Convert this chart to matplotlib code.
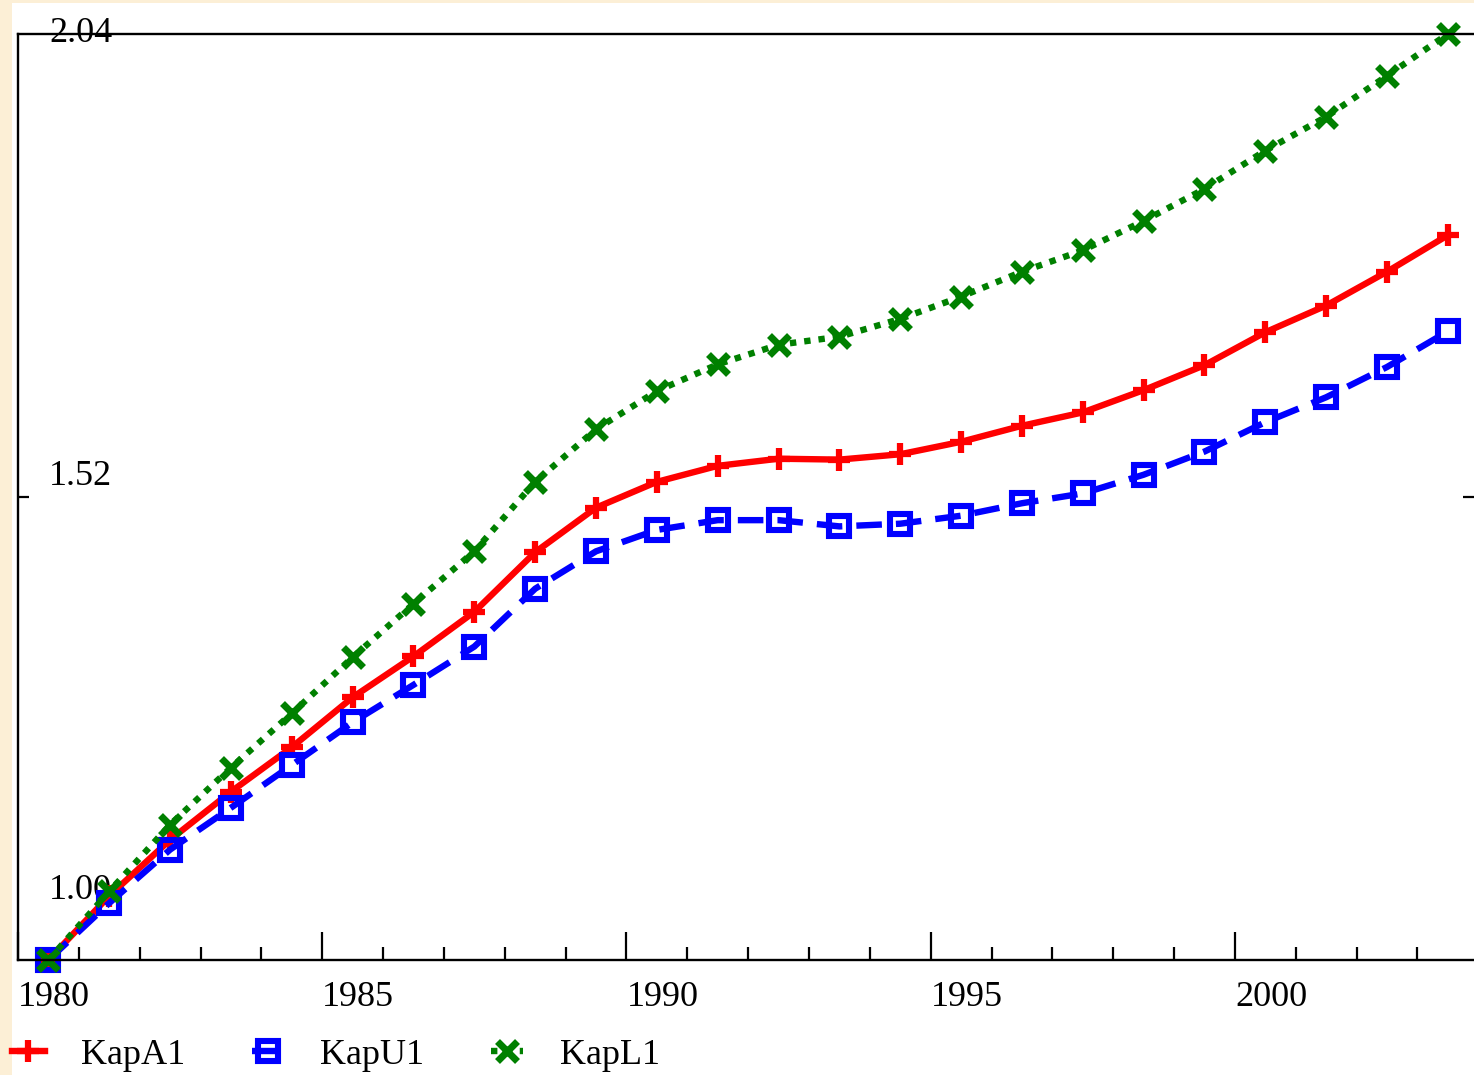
"""Capital index series KapA1 / KapU1 / KapL1, 1980-2003 (1980 = 1.00)."""

import matplotlib
matplotlib.use("Agg")
import matplotlib.pyplot as plt  # noqa: E402
from matplotlib.patches import Rectangle  # noqa: E402
from matplotlib.ticker import MultipleLocator, FixedLocator  # noqa: E402

years = list(range(1980, 2004))
kap_a1 = [1.000, 1.072, 1.135, 1.189, 1.239, 1.295, 1.341, 1.391, 1.458, 1.508, 1.537, 1.555,
          1.563, 1.562, 1.568, 1.582, 1.600, 1.615, 1.640, 1.668, 1.705, 1.735, 1.773, 1.814]
kap_u1 = [1.000, 1.064, 1.124, 1.171, 1.219, 1.267, 1.309, 1.352, 1.417, 1.459, 1.483, 1.494,
          1.494, 1.487, 1.490, 1.499, 1.513, 1.524, 1.545, 1.571, 1.604, 1.632, 1.666, 1.706]
kap_l1 = [1.000, 1.077, 1.152, 1.216, 1.277, 1.340, 1.400, 1.459, 1.537, 1.596, 1.639, 1.669,
          1.691, 1.700, 1.720, 1.745, 1.773, 1.797, 1.830, 1.866, 1.909, 1.947, 1.993, 2.040]
series_names = ["KapA1", "KapU1", "KapL1"]
y_ticks = [1.00, 1.52, 2.04]
x_major = [1980, 1985, 1990, 1995, 2000]

CREAM = "#fcefd6"
FONT = "Liberation Serif"
FS = 26
plt.rcParams.update({"font.family": FONT, "font.size": FS})

fig = plt.figure(figsize=(14.74, 10.75), dpi=100, facecolor=CREAM)
fig.patches.append(Rectangle((12 / 1474, 0), 1, 1 - 3 / 1075, transform=fig.transFigure,
                             facecolor="white", edgecolor="none", zorder=-5))
ax = fig.add_axes([18 / 1474, 1 - 960 / 1075, 1 - 18 / 1474, (960 - 34) / 1075])
ax.set_facecolor("none")

xs = [y + 0.5 for y in years]  # yearly values sit mid-year
lw = 4.6
ax.plot(xs, kap_a1, color="#ff0000", lw=lw, marker="+", ms=16, mew=4.5, clip_on=False,
        label=series_names[0])
ax.plot(xs, kap_u1, color="#0000ff", lw=lw, ls=(0, (4.0, 2.2)), marker="s", ms=14, mew=4.4,
        mfc="none", clip_on=False, label=series_names[1])
ax.plot(xs, kap_l1, color="#008000", lw=lw, ls=(0, (1, 1.25)), marker="x", ms=14, mew=5.0,
        clip_on=False, label=series_names[2])

ax.set_xlim(1980, 2003.93)
ax.set_ylim(y_ticks[0], y_ticks[-1])

for s in ("left", "top", "bottom"):
    ax.spines[s].set_linewidth(1.7)
ax.spines["right"].set_visible(False)

ax.xaxis.set_major_locator(FixedLocator(x_major))
ax.xaxis.set_minor_locator(MultipleLocator(1))
ax.tick_params(axis="x", which="major", direction="in", length=20, width=1.6, pad=15,
               labelsize=FS)
ax.tick_params(axis="x", which="minor", direction="in", length=9.5, width=1.6)
for lab in ax.get_xticklabels():
    lab.set_horizontalalignment("left")

ax.yaxis.set_major_locator(FixedLocator([y_ticks[1]]))
ax.tick_params(axis="y", which="major", direction="in", length=8, width=1.6, left=True,
               right=True, labelleft=False)

# y labels sit above their levels, like the original package draws them
lab_y = {1.00: 1.0786, 1.52: 1.5425, 2.04: 2.041}
tr = ax.get_yaxis_transform()
for v in y_ticks:
    ax.text(0.0215, lab_y[v], f"{v:.2f}", transform=tr, ha="left", va="center", fontsize=FS,
            zorder=1)

leg = fig.legend(loc="center left", bbox_to_anchor=(12 / 1474, 20 / 1075), ncol=3,
                 frameon=False, fontsize=FS, handlelength=0.9, handletextpad=1.0,
                 columnspacing=1.85, borderpad=0, borderaxespad=0)

fig.savefig("out.png", dpi=100, facecolor=CREAM)
